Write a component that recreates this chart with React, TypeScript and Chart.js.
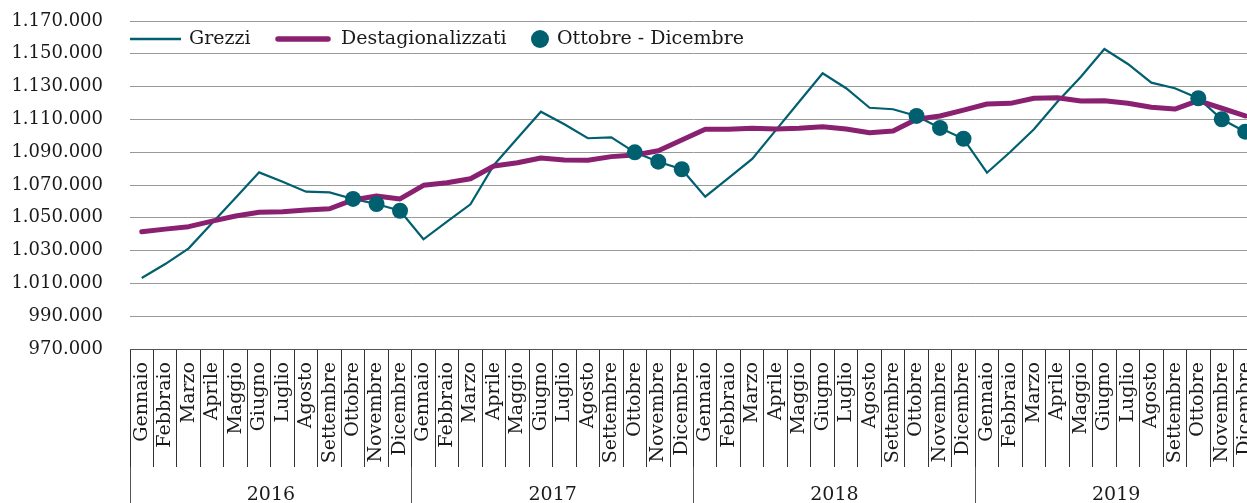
import React, { useEffect, useRef } from 'react';
import { Chart, registerables } from 'chart.js';

Chart.register(...registerables);

const months = ['Gennaio', 'Febbraio', 'Marzo', 'Aprile', 'Maggio', 'Giugno', 'Luglio', 'Agosto', 'Settembre', 'Ottobre', 'Novembre', 'Dicembre'];
const years = ['2016', '2017', '2018', '2019'];
const markerMonths = ['Ottobre', 'Novembre', 'Dicembre'];

const grezzi = [
  1013300, 1021800, 1031400, 1046900, 1062300, 1077700, 1072000, 1065900, 1065500, 1061500, 1058400, 1054300,
  1036900, 1047600, 1058200, 1082200, 1098500, 1114700, 1107000, 1098500, 1099100, 1089900, 1084200, 1079600,
  1062900, 1074300, 1085900, 1103300, 1120800, 1138100, 1129000, 1117100, 1116200, 1112100, 1104800, 1098200,
  1077500, 1090300, 1104000, 1120800, 1136000, 1152900, 1143800, 1132400, 1129000, 1122900, 1110100, 1102500,
];

const destagionalizzati = [
  1041500, 1043100, 1044600, 1048000, 1051100, 1053400, 1053700, 1054800, 1055500, 1060900, 1063300, 1061500,
  1069800, 1071400, 1073800, 1081600, 1083600, 1086500, 1085200, 1085100, 1087300, 1088300, 1090900, 1097400,
  1104000, 1104000, 1104600, 1104100, 1104600, 1105500, 1104100, 1101900, 1102900, 1110100, 1112100, 1115700,
  1119400, 1119800, 1122900, 1123200, 1121200, 1121400, 1119800, 1117400, 1116300, 1121400, 1116800, 1112100,
];

const yMin = 970000;
const yMax = 1170000;
const yStep = 20000;

const labels = years.flatMap(() => months);
const markers = grezzi.map((v, i) => (markerMonths.includes(labels[i]) ? v : null));

const FONT = 'DejaVu Serif';
const TEAL = '#00606f';
const PURPLE = '#8a2070';
const TEXT = '#1a1a1a';

const fmt = (v: number) => String(v).replace(/\B(?=(\d{3})+(?!\d))/g, '.');

const legendPlugin = {
  id: 'customLegend',
  afterDraw(chart: any) {
    const ctx = chart.ctx;
    const ds = chart.data.datasets;
    const y = 39;
    ctx.save();
    ctx.font = `19px "${FONT}"`;
    ctx.textBaseline = 'middle';
    ctx.textAlign = 'left';
    ctx.fillStyle = TEXT;
    // Grezzi
    ctx.strokeStyle = TEAL;
    ctx.lineWidth = 2.5;
    ctx.lineCap = 'butt';
    ctx.beginPath();
    ctx.moveTo(130, y);
    ctx.lineTo(181, y);
    ctx.stroke();
    ctx.fillText(ds[2].label, 189, y);
    // Destagionalizzati
    ctx.strokeStyle = PURPLE;
    ctx.lineWidth = 5.5;
    ctx.lineCap = 'round';
    ctx.beginPath();
    ctx.moveTo(278, y);
    ctx.lineTo(328, y);
    ctx.stroke();
    ctx.fillText(ds[1].label, 341, y);
    // Markers
    ctx.fillStyle = TEAL;
    ctx.beginPath();
    ctx.arc(540, y, 9, 0, Math.PI * 2);
    ctx.fill();
    ctx.fillStyle = TEXT;
    ctx.fillText(ds[0].label, 557, y);
    ctx.restore();
  },
};

export default function App() {
  const ref = useRef<HTMLCanvasElement>(null);

  useEffect(() => {
    if (!ref.current) return;
    const chart = new Chart(ref.current, {
      type: 'line',
      data: {
        labels,
        datasets: [
          {
            label: 'Ottobre - Dicembre',
            data: markers,
            showLine: false,
            pointRadius: 8,
            pointHoverRadius: 8,
            pointBackgroundColor: TEAL,
            pointBorderColor: TEAL,
            pointBorderWidth: 0,
            borderColor: TEAL,
            backgroundColor: TEAL,
            order: 0,
          },
          {
            label: 'Destagionalizzati',
            data: destagionalizzati,
            borderColor: PURPLE,
            backgroundColor: PURPLE,
            borderWidth: 5,
            borderJoinStyle: 'round',
            borderCapStyle: 'round',
            pointRadius: 0,
            tension: 0,
            order: 1,
          },
          {
            label: 'Grezzi',
            data: grezzi,
            borderColor: TEAL,
            backgroundColor: TEAL,
            borderWidth: 2.2,
            pointRadius: 0,
            tension: 0,
            order: 2,
          },
        ],
      },
      options: {
        responsive: false,
        animation: false,
        layout: { padding: { top: 21, right: 1, bottom: 0, left: 0 } },
        plugins: {
          legend: { display: false },
          tooltip: { enabled: false },
        },
        scales: {
          x: {
            type: 'category',
            position: 'bottom',
            offset: true,
            grid: {
              offset: true,
              drawOnChartArea: false,
              drawTicks: true,
              tickLength: 118,
              color: '#333',
              lineWidth: 1,
            },
            border: { display: true, color: '#555', width: 1 },
            ticks: {
              autoSkip: false,
              minRotation: 90,
              maxRotation: 90,
              padding: -105,
              color: TEXT,
              font: { family: FONT, size: 19 },
            },
            afterFit: (s: any) => {
              s.height = 118;
            },
          },
          yr: {
            type: 'category',
            position: 'bottom',
            labels: years,
            offset: true,
            grid: {
              offset: true,
              drawOnChartArea: false,
              drawTicks: true,
              tickLength: 36,
              color: '#555',
              lineWidth: 1,
            },
            border: { display: false },
            ticks: {
              autoSkip: false,
              maxRotation: 0,
              minRotation: 0,
              padding: -19,
              color: TEXT,
              font: { family: FONT, size: 19 },
            },
            afterFit: (s: any) => {
              s.height = 36;
            },
          },
          y: {
            min: yMin,
            max: yMax,
            border: { display: false },
            grid: {
              color: '#999',
              lineWidth: 1,
              drawTicks: true,
              tickLength: 27,
              tickColor: 'rgba(0,0,0,0)',
            },
            ticks: {
              stepSize: yStep,
              padding: 0,
              color: TEXT,
              font: { family: FONT, size: 18 },
              callback: (v: any) => fmt(Number(v)),
            },
            afterFit: (s: any) => {
              s.width = 130;
            },
          },
        },
      },
      plugins: [legendPlugin],
    });
    return () => chart.destroy();
  }, []);

  return (
    <div style={{ position: 'fixed', left: 0, top: 0, width: 1247, height: 503, overflow: 'hidden', background: '#fff' }}>
      <canvas ref={ref} width={1265} height={503} style={{ display: 'block', width: 1265, height: 503 }} />
    </div>
  );
}
